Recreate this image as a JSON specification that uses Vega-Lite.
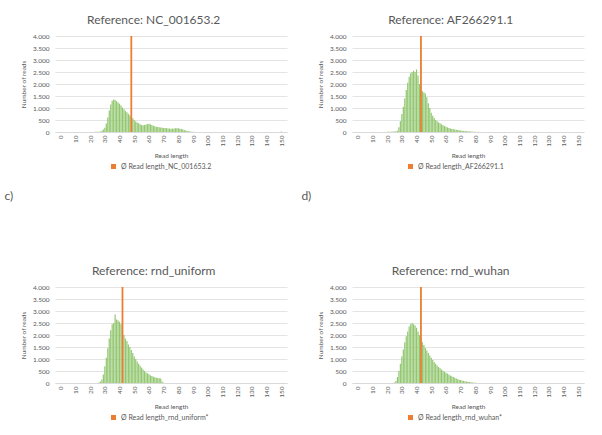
{
  "$schema": "https://vega.github.io/schema/vega-lite/v6.json",
  "padding": {"left": 4, "top": 14, "right": 5, "bottom": 5},
  "background": "white",
  "datasets": {
    "reads": [
      {"ref": "NC_001653.2", "len": 22, "reads": 5}, {"ref": "NC_001653.2", "len": 23, "reads": 5},
      {"ref": "NC_001653.2", "len": 24, "reads": 8}, {"ref": "NC_001653.2", "len": 25, "reads": 10},
      {"ref": "NC_001653.2", "len": 26, "reads": 15}, {"ref": "NC_001653.2", "len": 27, "reads": 20},
      {"ref": "NC_001653.2", "len": 28, "reads": 50}, {"ref": "NC_001653.2", "len": 29, "reads": 100},
      {"ref": "NC_001653.2", "len": 30, "reads": 180}, {"ref": "NC_001653.2", "len": 31, "reads": 350},
      {"ref": "NC_001653.2", "len": 32, "reads": 600}, {"ref": "NC_001653.2", "len": 33, "reads": 900},
      {"ref": "NC_001653.2", "len": 34, "reads": 1150}, {"ref": "NC_001653.2", "len": 35, "reads": 1300},
      {"ref": "NC_001653.2", "len": 36, "reads": 1350}, {"ref": "NC_001653.2", "len": 37, "reads": 1330},
      {"ref": "NC_001653.2", "len": 38, "reads": 1280}, {"ref": "NC_001653.2", "len": 39, "reads": 1230},
      {"ref": "NC_001653.2", "len": 40, "reads": 1180}, {"ref": "NC_001653.2", "len": 41, "reads": 1100},
      {"ref": "NC_001653.2", "len": 42, "reads": 1020}, {"ref": "NC_001653.2", "len": 43, "reads": 950},
      {"ref": "NC_001653.2", "len": 44, "reads": 880}, {"ref": "NC_001653.2", "len": 45, "reads": 820},
      {"ref": "NC_001653.2", "len": 46, "reads": 760}, {"ref": "NC_001653.2", "len": 47, "reads": 700},
      {"ref": "NC_001653.2", "len": 48, "reads": 640}, {"ref": "NC_001653.2", "len": 49, "reads": 570},
      {"ref": "NC_001653.2", "len": 50, "reads": 500}, {"ref": "NC_001653.2", "len": 51, "reads": 440},
      {"ref": "NC_001653.2", "len": 52, "reads": 400}, {"ref": "NC_001653.2", "len": 53, "reads": 360},
      {"ref": "NC_001653.2", "len": 54, "reads": 320}, {"ref": "NC_001653.2", "len": 55, "reads": 290},
      {"ref": "NC_001653.2", "len": 56, "reads": 280}, {"ref": "NC_001653.2", "len": 57, "reads": 290},
      {"ref": "NC_001653.2", "len": 58, "reads": 310}, {"ref": "NC_001653.2", "len": 59, "reads": 330},
      {"ref": "NC_001653.2", "len": 60, "reads": 340}, {"ref": "NC_001653.2", "len": 61, "reads": 320},
      {"ref": "NC_001653.2", "len": 62, "reads": 290}, {"ref": "NC_001653.2", "len": 63, "reads": 260},
      {"ref": "NC_001653.2", "len": 64, "reads": 240}, {"ref": "NC_001653.2", "len": 65, "reads": 220},
      {"ref": "NC_001653.2", "len": 66, "reads": 210}, {"ref": "NC_001653.2", "len": 67, "reads": 200},
      {"ref": "NC_001653.2", "len": 68, "reads": 190}, {"ref": "NC_001653.2", "len": 69, "reads": 180},
      {"ref": "NC_001653.2", "len": 70, "reads": 170}, {"ref": "NC_001653.2", "len": 71, "reads": 165},
      {"ref": "NC_001653.2", "len": 72, "reads": 160}, {"ref": "NC_001653.2", "len": 73, "reads": 150},
      {"ref": "NC_001653.2", "len": 74, "reads": 145}, {"ref": "NC_001653.2", "len": 75, "reads": 140},
      {"ref": "NC_001653.2", "len": 76, "reads": 140}, {"ref": "NC_001653.2", "len": 77, "reads": 145},
      {"ref": "NC_001653.2", "len": 78, "reads": 155}, {"ref": "NC_001653.2", "len": 79, "reads": 160},
      {"ref": "NC_001653.2", "len": 80, "reads": 155}, {"ref": "NC_001653.2", "len": 81, "reads": 140},
      {"ref": "NC_001653.2", "len": 82, "reads": 120}, {"ref": "NC_001653.2", "len": 83, "reads": 100},
      {"ref": "NC_001653.2", "len": 84, "reads": 80}, {"ref": "NC_001653.2", "len": 85, "reads": 60},
      {"ref": "NC_001653.2", "len": 86, "reads": 45}, {"ref": "NC_001653.2", "len": 87, "reads": 30},
      {"ref": "NC_001653.2", "len": 88, "reads": 20}, {"ref": "NC_001653.2", "len": 89, "reads": 12},
      {"ref": "NC_001653.2", "len": 90, "reads": 6}, {"ref": "NC_001653.2", "len": 91, "reads": 3},
      {"ref": "NC_001653.2", "len": 150, "reads": 20},

      {"ref": "AF266291.1", "len": 20, "reads": 10}, {"ref": "AF266291.1", "len": 21, "reads": 10},
      {"ref": "AF266291.1", "len": 22, "reads": 15}, {"ref": "AF266291.1", "len": 23, "reads": 15},
      {"ref": "AF266291.1", "len": 24, "reads": 20}, {"ref": "AF266291.1", "len": 25, "reads": 20},
      {"ref": "AF266291.1", "len": 26, "reads": 30}, {"ref": "AF266291.1", "len": 27, "reads": 50},
      {"ref": "AF266291.1", "len": 28, "reads": 200}, {"ref": "AF266291.1", "len": 29, "reads": 450},
      {"ref": "AF266291.1", "len": 30, "reads": 750}, {"ref": "AF266291.1", "len": 31, "reads": 1050},
      {"ref": "AF266291.1", "len": 32, "reads": 1400}, {"ref": "AF266291.1", "len": 33, "reads": 1750},
      {"ref": "AF266291.1", "len": 34, "reads": 2050}, {"ref": "AF266291.1", "len": 35, "reads": 2300},
      {"ref": "AF266291.1", "len": 36, "reads": 2450}, {"ref": "AF266291.1", "len": 37, "reads": 2500},
      {"ref": "AF266291.1", "len": 38, "reads": 2550}, {"ref": "AF266291.1", "len": 39, "reads": 2500},
      {"ref": "AF266291.1", "len": 40, "reads": 2600}, {"ref": "AF266291.1", "len": 41, "reads": 2350},
      {"ref": "AF266291.1", "len": 42, "reads": 2000}, {"ref": "AF266291.1", "len": 43, "reads": 1750},
      {"ref": "AF266291.1", "len": 44, "reads": 1700}, {"ref": "AF266291.1", "len": 45, "reads": 1650},
      {"ref": "AF266291.1", "len": 46, "reads": 1600}, {"ref": "AF266291.1", "len": 47, "reads": 1450},
      {"ref": "AF266291.1", "len": 48, "reads": 1200}, {"ref": "AF266291.1", "len": 49, "reads": 1000},
      {"ref": "AF266291.1", "len": 50, "reads": 800}, {"ref": "AF266291.1", "len": 51, "reads": 680},
      {"ref": "AF266291.1", "len": 52, "reads": 580}, {"ref": "AF266291.1", "len": 53, "reads": 500},
      {"ref": "AF266291.1", "len": 54, "reads": 450}, {"ref": "AF266291.1", "len": 55, "reads": 400},
      {"ref": "AF266291.1", "len": 56, "reads": 360}, {"ref": "AF266291.1", "len": 57, "reads": 320},
      {"ref": "AF266291.1", "len": 58, "reads": 280}, {"ref": "AF266291.1", "len": 59, "reads": 250},
      {"ref": "AF266291.1", "len": 60, "reads": 220}, {"ref": "AF266291.1", "len": 61, "reads": 190},
      {"ref": "AF266291.1", "len": 62, "reads": 170}, {"ref": "AF266291.1", "len": 63, "reads": 150},
      {"ref": "AF266291.1", "len": 64, "reads": 130}, {"ref": "AF266291.1", "len": 65, "reads": 115},
      {"ref": "AF266291.1", "len": 66, "reads": 100}, {"ref": "AF266291.1", "len": 67, "reads": 90},
      {"ref": "AF266291.1", "len": 68, "reads": 80}, {"ref": "AF266291.1", "len": 69, "reads": 70},
      {"ref": "AF266291.1", "len": 70, "reads": 60}, {"ref": "AF266291.1", "len": 71, "reads": 50},
      {"ref": "AF266291.1", "len": 72, "reads": 45}, {"ref": "AF266291.1", "len": 73, "reads": 40},
      {"ref": "AF266291.1", "len": 74, "reads": 35}, {"ref": "AF266291.1", "len": 75, "reads": 30},
      {"ref": "AF266291.1", "len": 76, "reads": 25}, {"ref": "AF266291.1", "len": 77, "reads": 20},
      {"ref": "AF266291.1", "len": 78, "reads": 15}, {"ref": "AF266291.1", "len": 79, "reads": 12},
      {"ref": "AF266291.1", "len": 80, "reads": 10}, {"ref": "AF266291.1", "len": 82, "reads": 6},
      {"ref": "AF266291.1", "len": 84, "reads": 5}, {"ref": "AF266291.1", "len": 86, "reads": 4},
      {"ref": "AF266291.1", "len": 88, "reads": 3}, {"ref": "AF266291.1", "len": 90, "reads": 3},

      {"ref": "rnd_uniform", "len": 26, "reads": 20}, {"ref": "rnd_uniform", "len": 27, "reads": 60},
      {"ref": "rnd_uniform", "len": 28, "reads": 150}, {"ref": "rnd_uniform", "len": 29, "reads": 350},
      {"ref": "rnd_uniform", "len": 30, "reads": 700}, {"ref": "rnd_uniform", "len": 31, "reads": 1050},
      {"ref": "rnd_uniform", "len": 32, "reads": 1450}, {"ref": "rnd_uniform", "len": 33, "reads": 1850},
      {"ref": "rnd_uniform", "len": 34, "reads": 2200}, {"ref": "rnd_uniform", "len": 35, "reads": 2450},
      {"ref": "rnd_uniform", "len": 36, "reads": 2500}, {"ref": "rnd_uniform", "len": 37, "reads": 2850},
      {"ref": "rnd_uniform", "len": 38, "reads": 2650}, {"ref": "rnd_uniform", "len": 39, "reads": 2600},
      {"ref": "rnd_uniform", "len": 40, "reads": 2550}, {"ref": "rnd_uniform", "len": 41, "reads": 2450},
      {"ref": "rnd_uniform", "len": 42, "reads": 2200}, {"ref": "rnd_uniform", "len": 43, "reads": 2000},
      {"ref": "rnd_uniform", "len": 44, "reads": 1850}, {"ref": "rnd_uniform", "len": 45, "reads": 1750},
      {"ref": "rnd_uniform", "len": 46, "reads": 1600}, {"ref": "rnd_uniform", "len": 47, "reads": 1500},
      {"ref": "rnd_uniform", "len": 48, "reads": 1380}, {"ref": "rnd_uniform", "len": 49, "reads": 1250},
      {"ref": "rnd_uniform", "len": 50, "reads": 1100}, {"ref": "rnd_uniform", "len": 51, "reads": 1000},
      {"ref": "rnd_uniform", "len": 52, "reads": 900}, {"ref": "rnd_uniform", "len": 53, "reads": 800},
      {"ref": "rnd_uniform", "len": 54, "reads": 720}, {"ref": "rnd_uniform", "len": 55, "reads": 640},
      {"ref": "rnd_uniform", "len": 56, "reads": 560}, {"ref": "rnd_uniform", "len": 57, "reads": 500},
      {"ref": "rnd_uniform", "len": 58, "reads": 440}, {"ref": "rnd_uniform", "len": 59, "reads": 400},
      {"ref": "rnd_uniform", "len": 60, "reads": 360}, {"ref": "rnd_uniform", "len": 61, "reads": 320},
      {"ref": "rnd_uniform", "len": 62, "reads": 290}, {"ref": "rnd_uniform", "len": 63, "reads": 260},
      {"ref": "rnd_uniform", "len": 64, "reads": 240}, {"ref": "rnd_uniform", "len": 65, "reads": 220},
      {"ref": "rnd_uniform", "len": 66, "reads": 210}, {"ref": "rnd_uniform", "len": 67, "reads": 200},
      {"ref": "rnd_uniform", "len": 68, "reads": 190}, {"ref": "rnd_uniform", "len": 69, "reads": 60},
      {"ref": "rnd_uniform", "len": 70, "reads": 10},

      {"ref": "rnd_wuhan", "len": 25, "reads": 20}, {"ref": "rnd_wuhan", "len": 26, "reads": 80},
      {"ref": "rnd_wuhan", "len": 27, "reads": 250}, {"ref": "rnd_wuhan", "len": 28, "reads": 500},
      {"ref": "rnd_wuhan", "len": 29, "reads": 800}, {"ref": "rnd_wuhan", "len": 30, "reads": 1100},
      {"ref": "rnd_wuhan", "len": 31, "reads": 1400}, {"ref": "rnd_wuhan", "len": 32, "reads": 1700},
      {"ref": "rnd_wuhan", "len": 33, "reads": 1950}, {"ref": "rnd_wuhan", "len": 34, "reads": 2150},
      {"ref": "rnd_wuhan", "len": 35, "reads": 2350}, {"ref": "rnd_wuhan", "len": 36, "reads": 2450},
      {"ref": "rnd_wuhan", "len": 37, "reads": 2500}, {"ref": "rnd_wuhan", "len": 38, "reads": 2450},
      {"ref": "rnd_wuhan", "len": 39, "reads": 2400}, {"ref": "rnd_wuhan", "len": 40, "reads": 2300},
      {"ref": "rnd_wuhan", "len": 41, "reads": 2150}, {"ref": "rnd_wuhan", "len": 42, "reads": 2000},
      {"ref": "rnd_wuhan", "len": 43, "reads": 1850}, {"ref": "rnd_wuhan", "len": 44, "reads": 1700},
      {"ref": "rnd_wuhan", "len": 45, "reads": 1580}, {"ref": "rnd_wuhan", "len": 46, "reads": 1460},
      {"ref": "rnd_wuhan", "len": 47, "reads": 1350}, {"ref": "rnd_wuhan", "len": 48, "reads": 1250},
      {"ref": "rnd_wuhan", "len": 49, "reads": 1150}, {"ref": "rnd_wuhan", "len": 50, "reads": 1050},
      {"ref": "rnd_wuhan", "len": 51, "reads": 960}, {"ref": "rnd_wuhan", "len": 52, "reads": 880},
      {"ref": "rnd_wuhan", "len": 53, "reads": 800}, {"ref": "rnd_wuhan", "len": 54, "reads": 730},
      {"ref": "rnd_wuhan", "len": 55, "reads": 670}, {"ref": "rnd_wuhan", "len": 56, "reads": 610},
      {"ref": "rnd_wuhan", "len": 57, "reads": 560}, {"ref": "rnd_wuhan", "len": 58, "reads": 510},
      {"ref": "rnd_wuhan", "len": 59, "reads": 470}, {"ref": "rnd_wuhan", "len": 60, "reads": 430},
      {"ref": "rnd_wuhan", "len": 61, "reads": 390}, {"ref": "rnd_wuhan", "len": 62, "reads": 350},
      {"ref": "rnd_wuhan", "len": 63, "reads": 310}, {"ref": "rnd_wuhan", "len": 64, "reads": 280},
      {"ref": "rnd_wuhan", "len": 65, "reads": 250}, {"ref": "rnd_wuhan", "len": 66, "reads": 220},
      {"ref": "rnd_wuhan", "len": 67, "reads": 190}, {"ref": "rnd_wuhan", "len": 68, "reads": 160},
      {"ref": "rnd_wuhan", "len": 69, "reads": 140}, {"ref": "rnd_wuhan", "len": 70, "reads": 120},
      {"ref": "rnd_wuhan", "len": 71, "reads": 100}, {"ref": "rnd_wuhan", "len": 72, "reads": 85},
      {"ref": "rnd_wuhan", "len": 73, "reads": 70}, {"ref": "rnd_wuhan", "len": 74, "reads": 60},
      {"ref": "rnd_wuhan", "len": 75, "reads": 50}, {"ref": "rnd_wuhan", "len": 76, "reads": 40},
      {"ref": "rnd_wuhan", "len": 77, "reads": 30}, {"ref": "rnd_wuhan", "len": 78, "reads": 22},
      {"ref": "rnd_wuhan", "len": 79, "reads": 15}, {"ref": "rnd_wuhan", "len": 80, "reads": 10}
    ],
    "means": [
      {"ref": "NC_001653.2", "len": 48, "reads": 4000, "series": "Ø Read length_NC_001653.2"},
      {"ref": "AF266291.1", "len": 43, "reads": 4000, "series": "Ø Read length_AF266291.1"},
      {"ref": "rnd_uniform", "len": 42, "reads": 4000, "series": "Ø Read length_rnd_uniform*"},
      {"ref": "rnd_wuhan", "len": 43, "reads": 4000, "series": "Ø Read length_rnd_wuhan*"}
    ]
  },
  "hconcat": [
    {
      "vconcat": [
        {
          "width": 232, "height": 96,
          "title": "Reference: NC_001653.2",
          "encoding": {
            "x": {"field": "len", "type": "quantitative", "title": "Read length", "scale": {"domain": [-0.5, 150.5], "nice": false, "zero": false}, "axis": {"values": [0, 10, 20, 30, 40, 50, 60, 70, 80, 90, 100, 110, 120, 130, 140, 150]}},
            "y": {"field": "reads", "type": "quantitative", "title": "Number of reads", "scale": {"domain": [0, 4000]}, "axis": {"values": [0, 500, 1000, 1500, 2000, 2500, 3000, 3500, 4000], "format": ",d"}}
          },
          "layer": [
            {"data": {"name": "reads"}, "transform": [{"filter": "datum.ref == 'NC_001653.2'"}], "mark": {"type": "bar", "width": 1.2, "color": "#92c770"}},
            {"data": {"name": "means"}, "transform": [{"filter": "datum.ref == 'NC_001653.2'"}], "mark": {"type": "bar", "width": 1.8},
             "encoding": {"color": {"field": "series", "type": "nominal", "scale": {"range": ["#ed7d31"]}, "legend": {"title": null, "orient": "none", "legendX": 55, "legendY": 127}}}}
          ]
        },
        {
          "title": {"text": "c)", "anchor": "start", "offset": 62, "dx": -16},
          "vconcat": [
            {
              "width": 232, "height": 96,
              "title": "Reference: rnd_uniform",
              "encoding": {
                "x": {"field": "len", "type": "quantitative", "title": "Read length", "scale": {"domain": [-0.5, 150.5], "nice": false, "zero": false}, "axis": {"values": [0, 10, 20, 30, 40, 50, 60, 70, 80, 90, 100, 110, 120, 130, 140, 150]}},
                "y": {"field": "reads", "type": "quantitative", "title": "Number of reads", "scale": {"domain": [0, 4000]}, "axis": {"values": [0, 500, 1000, 1500, 2000, 2500, 3000, 3500, 4000], "format": ",d"}}
              },
              "layer": [
                {"data": {"name": "reads"}, "transform": [{"filter": "datum.ref == 'rnd_uniform'"}], "mark": {"type": "bar", "width": 1.2, "color": "#92c770"}},
                {"data": {"name": "means"}, "transform": [{"filter": "datum.ref == 'rnd_uniform'"}], "mark": {"type": "bar", "width": 1.8},
                 "encoding": {"color": {"field": "series", "type": "nominal", "scale": {"range": ["#ed7d31"]}, "legend": {"title": null, "orient": "none", "legendX": 55, "legendY": 127}}}}
              ]
            }
          ],
          "resolve": {"scale": {"color": "independent"}, "legend": {"color": "independent"}}
        }
      ],
      "spacing": 20,
      "resolve": {"scale": {"color": "independent"}, "legend": {"color": "independent"}}
    },
    {
      "vconcat": [
        {
          "width": 232, "height": 96,
          "title": "Reference: AF266291.1",
          "encoding": {
            "x": {"field": "len", "type": "quantitative", "title": "Read length", "scale": {"domain": [-0.5, 150.5], "nice": false, "zero": false}, "axis": {"values": [0, 10, 20, 30, 40, 50, 60, 70, 80, 90, 100, 110, 120, 130, 140, 150]}},
            "y": {"field": "reads", "type": "quantitative", "title": "Number of reads", "scale": {"domain": [0, 4000]}, "axis": {"values": [0, 500, 1000, 1500, 2000, 2500, 3000, 3500, 4000], "format": ",d"}}
          },
          "layer": [
            {"data": {"name": "reads"}, "transform": [{"filter": "datum.ref == 'AF266291.1'"}], "mark": {"type": "bar", "width": 1.2, "color": "#92c770"}},
            {"data": {"name": "means"}, "transform": [{"filter": "datum.ref == 'AF266291.1'"}], "mark": {"type": "bar", "width": 1.8},
             "encoding": {"color": {"field": "series", "type": "nominal", "scale": {"range": ["#ed7d31"]}, "legend": {"title": null, "orient": "none", "legendX": 55, "legendY": 127}}}}
          ]
        },
        {
          "title": {"text": "d)", "anchor": "start", "offset": 62, "dx": -16},
          "vconcat": [
            {
              "width": 232, "height": 96,
              "title": "Reference: rnd_wuhan",
              "encoding": {
                "x": {"field": "len", "type": "quantitative", "title": "Read length", "scale": {"domain": [-0.5, 150.5], "nice": false, "zero": false}, "axis": {"values": [0, 10, 20, 30, 40, 50, 60, 70, 80, 90, 100, 110, 120, 130, 140, 150]}},
                "y": {"field": "reads", "type": "quantitative", "title": "Number of reads", "scale": {"domain": [0, 4000]}, "axis": {"values": [0, 500, 1000, 1500, 2000, 2500, 3000, 3500, 4000], "format": ",d"}}
              },
              "layer": [
                {"data": {"name": "reads"}, "transform": [{"filter": "datum.ref == 'rnd_wuhan'"}], "mark": {"type": "bar", "width": 1.2, "color": "#92c770"}},
                {"data": {"name": "means"}, "transform": [{"filter": "datum.ref == 'rnd_wuhan'"}], "mark": {"type": "bar", "width": 1.8},
                 "encoding": {"color": {"field": "series", "type": "nominal", "scale": {"range": ["#ed7d31"]}, "legend": {"title": null, "orient": "none", "legendX": 55, "legendY": 127}}}}
              ]
            }
          ],
          "resolve": {"scale": {"color": "independent"}, "legend": {"color": "independent"}}
        }
      ],
      "spacing": 20,
      "resolve": {"scale": {"color": "independent"}, "legend": {"color": "independent"}}
    }
  ],
  "spacing": 14,
  "resolve": {"scale": {"color": "independent"}, "legend": {"color": "independent"}},
  "config": {
    "font": "Lato",
    "locale": {"number": {"decimal": ",", "thousands": ".", "grouping": [3], "currency": ["", " €"]}},
    "view": {"stroke": null},
    "title": {"fontSize": 12, "fontWeight": "normal", "color": "#595959", "offset": 6, "frame": "bounds"},
    "axis": {"labelFontSize": 6.5, "titleFontSize": 6.5, "labelColor": "#595959", "titleColor": "#595959", "titleFontWeight": "normal", "ticks": false, "gridColor": "#d9d9d9", "gridWidth": 0.7, "domainColor": "#d9d9d9"},
    "axisY": {"domain": false, "grid": true, "labelPadding": 6, "titlePadding": 6},
    "axisX": {"grid": false, "labelAngle": -90, "labelPadding": 3, "titlePadding": 6},
    "legend": {"labelFontSize": 7, "labelColor": "#595959", "symbolType": "square", "symbolSize": 25, "padding": 0, "labelLimit": 300}
  }
}
